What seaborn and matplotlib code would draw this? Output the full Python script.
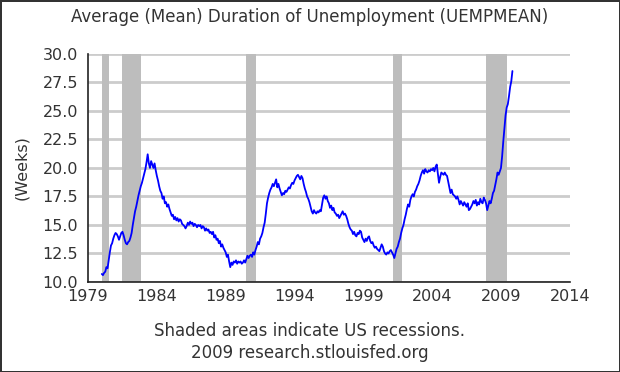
import numpy as np
import pandas as pd
import seaborn as sns
import matplotlib.pyplot as plt

sns.set_style("white")
plt.rcParams['font.family'] = ['DejaVu Sans']

# Monthly average duration of unemployment (weeks), Jan 1980 - Nov 2009
weeks_1980s = [
    10.7, 10.6, 10.8, 10.9, 11.3, 11.2, 11.9, 12.6, 13.2, 13.4, 13.8, 14.1,  # 1980
    14.3, 14.2, 14.0, 13.7, 14.0, 14.3, 14.4, 14.1, 13.7, 13.4, 13.3, 13.5,  # 1981
    13.6, 13.9, 14.3, 15.0, 15.6, 16.2, 16.6, 17.1, 17.6, 18.0, 18.4, 18.7,  # 1982
    19.1, 19.5, 19.9, 20.5, 21.2, 20.4, 20.0, 20.6, 20.3, 20.0, 20.4, 19.8,  # 1983
    19.3, 18.9, 18.4, 18.0, 17.8, 17.3, 17.5, 16.9, 17.0, 16.6, 16.8, 16.4,  # 1984
    16.1, 15.8, 15.9, 15.5, 15.7, 15.4, 15.6, 15.3, 15.5, 15.4, 15.1, 15.0,  # 1985
    14.9, 14.7, 14.9, 15.2, 15.0, 15.3, 15.1, 15.2, 14.9, 15.1, 15.0, 14.8,  # 1986
    15.0, 14.9, 15.0, 14.7, 14.9, 14.8, 14.5, 14.7, 14.5, 14.6, 14.3, 14.4,  # 1987
    14.2, 14.4, 13.9, 14.1, 13.7, 13.8, 13.4, 13.6, 13.1, 13.3, 13.0, 12.8,  # 1988
    12.6, 12.2, 12.4, 11.8, 11.3, 11.7, 11.5, 11.8, 11.7, 11.9, 11.6, 11.8,  # 1989
]
weeks_1990s = [
    11.7, 11.8, 11.6, 11.7, 11.9, 11.7, 12.0, 12.3, 12.1, 12.3, 12.4, 12.2,  # 1990
    12.6, 12.4, 12.8, 13.1, 13.5, 13.3, 13.8, 14.0, 14.3, 14.8, 15.2, 16.0,  # 1991
    16.9, 17.4, 17.8, 18.1, 18.3, 18.6, 18.4, 18.7, 19.0, 18.3, 18.6, 18.2,  # 1992
    17.9, 17.6, 17.8, 17.7, 18.0, 17.9, 18.1, 18.3, 18.2, 18.5, 18.7, 18.6,  # 1993
    18.9, 19.1, 19.3, 19.4, 19.2, 19.0, 19.3, 19.1, 18.6, 18.2, 17.9, 17.5,  # 1994
    17.3, 17.0, 16.6, 16.2, 16.0, 16.3, 16.1, 16.0, 16.2, 16.1, 16.3, 16.2,  # 1995
    16.8, 17.4, 17.6, 17.3, 17.5, 17.1, 16.9, 16.5, 16.7, 16.3, 16.5, 16.1,  # 1996
    16.0, 15.8, 15.9, 15.6, 15.8, 16.0, 16.2, 15.9, 16.0, 15.8, 15.5, 15.1,  # 1997
    14.8, 14.6, 14.5, 14.2, 14.4, 14.1, 14.0, 14.3, 14.2, 14.5, 14.4, 13.9,  # 1998
    13.7, 13.5, 13.8, 13.6, 13.9, 14.0, 13.6, 13.4, 13.5, 13.2, 13.0, 13.1,  # 1999
]
weeks_2000s = [
    12.9, 12.8, 12.7, 13.0, 13.3, 13.1, 12.7, 12.5, 12.4, 12.6, 12.5, 12.7,  # 2000
    12.8, 12.6, 12.4, 12.1, 12.5, 12.9, 13.1, 13.5, 13.8, 14.3, 14.7, 15.0,  # 2001
    15.5, 15.9, 16.4, 16.8, 16.6, 17.2, 17.5, 17.7, 17.5, 17.9, 18.1, 18.4,  # 2002
    18.6, 18.9, 19.3, 19.6, 19.8, 19.5, 19.9, 19.7, 19.6, 19.8, 19.7, 19.9,  # 2003
    19.8, 20.0, 19.7, 20.1, 20.3, 19.5, 18.7, 19.2, 19.6, 19.5, 19.4, 19.6,  # 2004
    19.4, 19.3, 18.8, 18.3, 17.8, 18.1, 17.7, 17.6, 17.5, 17.3, 17.5, 17.2,  # 2005
    16.8, 17.1, 16.9, 16.7, 17.0, 16.8, 16.6, 16.9, 16.3, 16.4, 16.6, 16.8,  # 2006
    17.1, 16.9, 17.2, 16.7, 17.0, 16.8, 17.3, 17.0, 16.9, 17.4, 17.2, 16.9,  # 2007
    16.3, 16.7, 17.1, 16.9, 17.3, 17.8, 18.0, 18.5, 19.0, 19.6, 19.4, 19.7,  # 2008
    20.0, 21.0, 22.3, 23.4, 24.6, 25.3, 25.6, 26.3, 27.1, 27.6, 28.5,        # 2009
]

# US recessions (decimal years)
recession_start = [1980.0, 1981.5, 1990.5, 2001.17, 2007.92]
recession_end = [1980.5, 1982.83, 1991.17, 2001.83, 2009.42]

year_ticks = [1979, 1984, 1989, 1994, 1999, 2004, 2009, 2014]
week_ticks = [10.0, 12.5, 15.0, 17.5, 20.0, 22.5, 25.0, 27.5, 30.0]

weeks = weeks_1980s + weeks_1990s + weeks_2000s
df = pd.DataFrame({
    'date': 1980 + np.arange(len(weeks)) / 12.0,
    'weeks': weeks,
})

text_color = '#333333'
fig = plt.figure(figsize=(6.2, 3.72), dpi=100, edgecolor='#333333', linewidth=2)
ax = fig.add_axes([0.142, 0.242, 0.777, 0.613])

# Recession shading
for s, e in zip(recession_start, recession_end):
    ax.axvspan(s, e, color='#bdbdbd', lw=0, zorder=1)

sns.lineplot(data=df, x='date', y='weeks', ax=ax, color='#0000ff', lw=1.3, zorder=3)

ax.set_xlim(1979, 2014)
ax.set_ylim(10, 30)
ax.set_xticks(year_ticks)
ax.set_yticks(week_ticks)
ax.set_yticklabels([f'{t:.1f}' for t in week_ticks])
ax.yaxis.grid(True, color='#cccccc', lw=2, zorder=0)
ax.set_axisbelow(True)

for side in ['top', 'right']:
    ax.spines[side].set_visible(False)
for side in ['left', 'bottom']:
    ax.spines[side].set_color('#222222')
    ax.spines[side].set_linewidth(1.2)
    ax.spines[side].set_zorder(4)

ax.tick_params(axis='x', direction='in', length=5, width=1.2, color='#222222',
               labelsize=11.5, labelcolor=text_color, pad=5)
ax.tick_params(axis='y', direction='out', length=4, width=1.2, color='#222222',
               labelsize=11.5, labelcolor=text_color, pad=3)
ax.set_xlabel('')
ax.set_ylabel('(Weeks)', fontsize=11.5, color=text_color, labelpad=10)

fig.text(0.5, 0.955, 'Average (Mean) Duration of Unemployment (UEMPMEAN)',
         ha='center', va='center', fontsize=12, color=text_color)
fig.text(0.5, 0.11, 'Shaded areas indicate US recessions.',
         ha='center', va='center', fontsize=12, color=text_color)
fig.text(0.5, 0.05, '2009 research.stlouisfed.org',
         ha='center', va='center', fontsize=12, color=text_color)

fig.savefig('out.png', dpi=100, edgecolor=fig.get_edgecolor())
